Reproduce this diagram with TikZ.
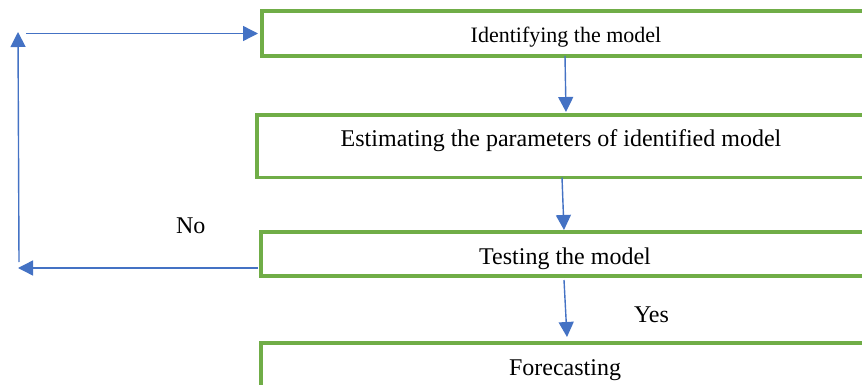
\documentclass[tikz,border=0pt]{standalone}
\usepackage{fontspec}
\setmainfont{Liberation Serif}
\usetikzlibrary{arrows.meta,positioning}
\definecolor{boxgreen}{HTML}{70AD47}
\definecolor{flowblue}{HTML}{4472C4}

\begin{document}
\begin{tikzpicture}[every node/.style={outer sep=0pt},
 stage/.style={draw=boxgreen,line width=1.6pt,minimum width=304pt,inner ysep=0pt,
 text height=16pt,font=\fontsize{12}{14}\selectfont},
 flow/.style={draw=flowblue,line width=0.7pt,-{Triangle[length=7.5pt,width=7.5pt]}},
 lbl/.style={font=\fontsize{12}{14}\selectfont}]

  \useasboundingbox (0,0) rectangle (431pt,-192.5pt);
  \clip (0,0) rectangle (431pt,-192.5pt);

  \node[stage,anchor=north,text depth=6.5pt,font=\fontsize{11}{13}\selectfont]
   at (283pt,-5.5pt) (b1) {Identifying the model};
  \node[stage,below=29.5pt of b1,xshift=-2.5pt,text depth=15.25pt] (b2)
   {Estimating the parameters of identified model};
  \node[stage,below=27.25pt of b2,xshift=2pt,text depth=6pt] (b3) {Testing the model};
  \node[stage,below=33.5pt of b3,text depth=9pt] (b4) {Forecasting};

  \draw[flow] ([xshift=-0.5pt]b1.south) -- ([xshift=2.5pt,yshift=1.5pt]b2.north);
  \draw[flow] ([xshift=0.5pt]b2.south) -- ([xshift=-0.5pt,yshift=1pt]b3.north);
  \draw[flow] ([xshift=-0.5pt,yshift=-2pt]b3.south)
   -- ([xshift=1pt,yshift=3pt]b4.north) node[lbl,midway,xshift=43pt,yshift=-3pt] (yes) {Yes};

  % way back when the test fails
  \coordinate (back) at (9pt,-134pt);
  \coordinate (up1) at (9.5pt,-131pt);
  \coordinate (up2) at (9pt,-16pt);
  \coordinate (go) at (13pt,-16.75pt);
  \draw[flow] ([xshift=-1.5pt,yshift=-7pt]b3.west) -- (back)
   node[lbl,pos=0.28,yshift=21pt] (no) {No};
  \draw[flow] (up1) -- (up2);
  \draw[flow] (go) -- ([xshift=-2pt]b1.west);

\end{tikzpicture}
\end{document}
